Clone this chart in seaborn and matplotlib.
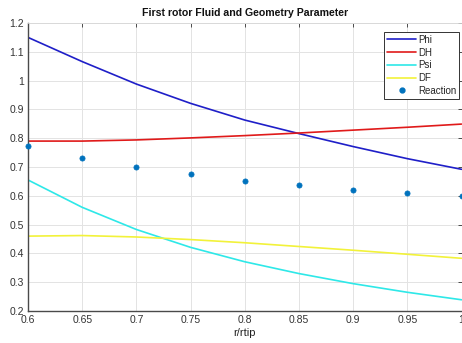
import numpy as np
import pandas as pd
import matplotlib
matplotlib.use("Agg")
import matplotlib.pyplot as plt
import seaborn as sns
from matplotlib.lines import Line2D

r = [0.6, 0.65, 0.7, 0.75, 0.8, 0.85, 0.9, 0.95, 1.0]
phi = [1.150, 1.066, 0.988, 0.921, 0.863, 0.816, 0.771, 0.729, 0.692]
dh = [0.790, 0.790, 0.794, 0.801, 0.809, 0.818, 0.828, 0.838, 0.849]
psi = [0.655, 0.560, 0.483, 0.421, 0.371, 0.330, 0.295, 0.265, 0.239]
df_ = [0.460, 0.462, 0.457, 0.448, 0.437, 0.424, 0.411, 0.397, 0.383]
reaction = [0.774, 0.732, 0.701, 0.676, 0.652, 0.636, 0.621, 0.609, 0.599]

sns.set_style("white")
plt.rcParams['font.family'] = ['Liberation Sans', 'DejaVu Sans']

fig = plt.figure(figsize=(4.62, 3.43), dpi=100)
ax = fig.add_axes([28/462, 32/343, 433.5/462, 288/343])

lines = pd.DataFrame({
    "r": r * 4,
    "val": phi + dh + psi + df_,
    "series": ["Phi"] * 9 + ["DH"] * 9 + ["Psi"] * 9 + ["DF"] * 9,
})
palette = {"Phi": "#1f1fc8", "DH": "#e01a1a", "Psi": "#2ee8e8", "DF": "#f2f23a"}
sns.lineplot(data=lines, x="r", y="val", hue="series", palette=palette,
             linewidth=1.2, ax=ax, legend=False)
sns.scatterplot(x=r, y=reaction, color="#0072BD", marker="o", s=14,
                edgecolor="#0072BD", linewidth=0.5, ax=ax, zorder=5, clip_on=False)

ax.set_xlim(0.6, 1.0)
ax.set_ylim(0.2, 1.2)
ax.set_xticks(r)
ax.set_xticklabels(["0.6", "0.65", "0.7", "0.75", "0.8", "0.85", "0.9", "0.95", "1"])
ax.set_yticks([0.2, 0.3, 0.4, 0.5, 0.6, 0.7, 0.8, 0.9, 1.0, 1.1, 1.2])
ax.set_yticklabels(["0.2", "0.3", "0.4", "0.5", "0.6", "0.7", "0.8", "0.9", "1", "1.1", "1.2"])
ax.grid(True, color="#e3e3e3", linewidth=0.7)
ax.tick_params(axis="both", labelsize=7.5, colors="#333333", direction="in",
               length=3, width=0.6, top=True, right=True, pad=3)
for s in ["left", "bottom"]:
    ax.spines[s].set_color("#4a4a4a")
    ax.spines[s].set_linewidth(1.0)
for s in ["top", "right"]:
    ax.spines[s].set_color("#d8d8d8")
    ax.spines[s].set_linewidth(0.6)
ax.set_xlabel("r/rtip", fontsize=8, color="#222222", labelpad=2)
ax.set_ylabel("")
ax.set_title("First rotor Fluid and Geometry Parameter", fontsize=7.6,
             fontweight="bold", color="#111111", pad=5)

handles = [Line2D([], [], color=palette[k], linewidth=1.2) for k in ["Phi", "DH", "Psi", "DF"]]
handles.append(Line2D([], [], color="#0072BD", marker="o", markersize=3.5, linestyle="none"))
leg = ax.legend(handles, ["Phi", "DH", "Psi", "DF", "Reaction"], loc="upper right",
                bbox_to_anchor=((459 - 28) / 433.5, 0.969), fontsize=7, frameon=True,
                fancybox=False, edgecolor="#333333", framealpha=1, borderpad=0.3,
                labelspacing=0.28, handlelength=3.0, handletextpad=0.15, borderaxespad=0)
leg.get_frame().set_linewidth(0.7)

fig.savefig("out.png", dpi=100)
